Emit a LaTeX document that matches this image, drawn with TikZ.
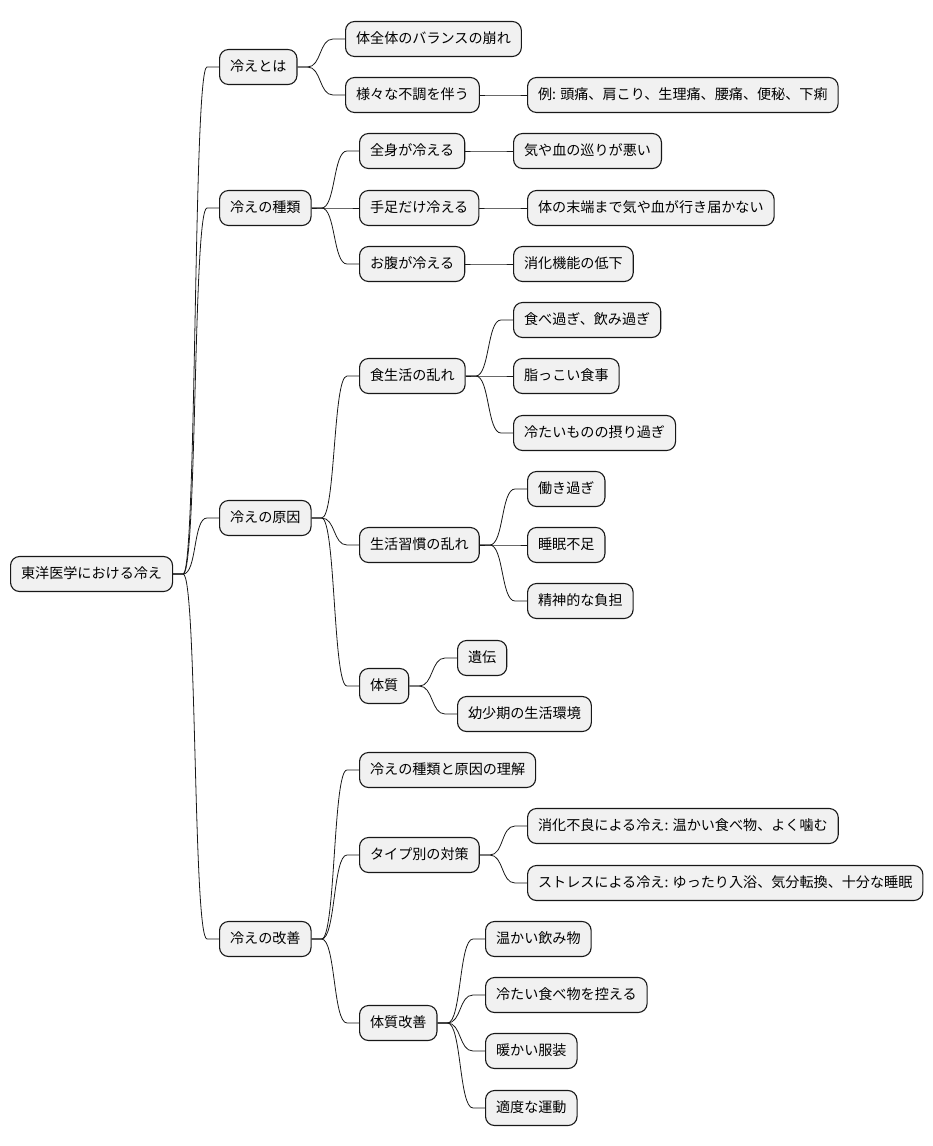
\documentclass[tikz,border=0pt]{standalone}
\usepackage{fontspec}
\setmainfont{Noto Sans CJK JP}
\usepackage{tikz}
\usetikzlibrary{calc}
\definecolor{boxfill}{HTML}{F1F1F1}
\definecolor{boxline}{HTML}{181818}
\tikzset{
  idea/.style={draw=boxline, fill=boxfill, line width=1.1pt, rounded corners=9pt,
    anchor=west, inner xsep=10.5pt, inner ysep=0pt, minimum height=35pt,
    text height=11pt, text depth=3pt, font=\fontsize{14.1pt}{16pt}\selectfont},
  branch/.style={draw=boxline, line width=0.8pt,
    to path={-- ++(10pt,0) .. controls +(14pt,0) and ($(\tikztotarget)+(-26pt,0)$) .. ($(\tikztotarget)+(-12pt,0)$) -- (\tikztotarget)}}
}
\begin{document}
\begin{tikzpicture}[x=1pt, y=-1pt]
		\useasboundingbox (0,0) rectangle (932,1146);
		% Nodes:
		\node[idea] (root) at (10, 574){東洋医学における冷え};
		\node[idea] (what) at (219, 67){冷えとは};
		\node[idea] (what1) at (345, 39){体全体のバランスの崩れ};
		\node[idea] (what2) at (345, 95){様々な不調を伴う};
		\node[idea] (what2a) at (527, 95){例: 頭痛、肩こり、生理痛、腰痛、便秘、下痢};
		\node[idea] (kind) at (219, 208){冷えの種類};
		\node[idea] (kind1) at (359, 151){全身が冷える};
		\node[idea] (kind1a) at (513, 151){気や血の巡りが悪い};
		\node[idea] (kind2) at (359, 208){手足だけ冷える};
		\node[idea] (kind2a) at (527, 208){体の末端まで気や血が行き届かない};
		\node[idea] (kind3) at (359, 264){お腹が冷える};
		\node[idea] (kind3a) at (513, 264){消化機能の低下};
		\node[idea] (cause) at (219, 518){冷えの原因};
		\node[idea] (diet) at (359, 376){食生活の乱れ};
		\node[idea] (diet1) at (513, 320){食べ過ぎ、飲み過ぎ};
		\node[idea] (diet2) at (513, 376){脂っこい食事};
		\node[idea] (diet3) at (513, 433){冷たいものの摂り過ぎ};
		\node[idea] (habit) at (359, 545){生活習慣の乱れ};
		\node[idea] (habit1) at (527, 489){働き過ぎ};
		\node[idea] (habit2) at (527, 545){睡眠不足};
		\node[idea] (habit3) at (527, 601){精神的な負担};
		\node[idea] (consti) at (359, 686){体質};
		\node[idea] (consti1) at (457, 658){遺伝};
		\node[idea] (consti2) at (457, 714){幼少期の生活環境};
		\node[idea] (cure) at (219, 939){冷えの改善};
		\node[idea] (cure1) at (359, 770){冷えの種類と原因の理解};
		\node[idea] (type) at (359, 855){タイプ別の対策};
		\node[idea] (type1) at (527, 826){消化不良による冷え: 温かい食べ物、よく噛む};
		\node[idea] (type2) at (527, 883){ストレスによる冷え: ゆったり入浴、気分転換、十分な睡眠};
		\node[idea] (body) at (359, 1023){体質改善};
		\node[idea] (body1) at (485, 939){温かい飲み物};
		\node[idea] (body2) at (485, 995){冷たい食べ物を控える};
		\node[idea] (body3) at (485, 1051){暖かい服装};
		\node[idea] (body4) at (485, 1108){適度な運動};
		% Branches:
		\foreach \t in {what, kind, cause, cure} \draw[branch] (root.east) to (\t.west);
		\foreach \t in {what1, what2} \draw[branch] (what.east) to (\t.west);
		\draw[branch] (what2.east) to (what2a.west);
		\foreach \t in {1, 2, 3} {
			\draw[branch] (kind.east) to (kind\t.west);
			\draw[branch] (kind\t.east) to (kind\t a.west);
			\draw[branch] (diet.east) to (diet\t.west);
			\draw[branch] (habit.east) to (habit\t.west);
		}
		\foreach \t in {diet, habit, consti} \draw[branch] (cause.east) to (\t.west);
		\foreach \t in {consti1, consti2} \draw[branch] (consti.east) to (\t.west);
		\foreach \t in {cure1, type, body} \draw[branch] (cure.east) to (\t.west);
		\foreach \t in {type1, type2} \draw[branch] (type.east) to (\t.west);
		\foreach \t in {1, 2, 3, 4} \draw[branch] (body.east) to (body\t.west);
	\end{tikzpicture}
\end{document}
